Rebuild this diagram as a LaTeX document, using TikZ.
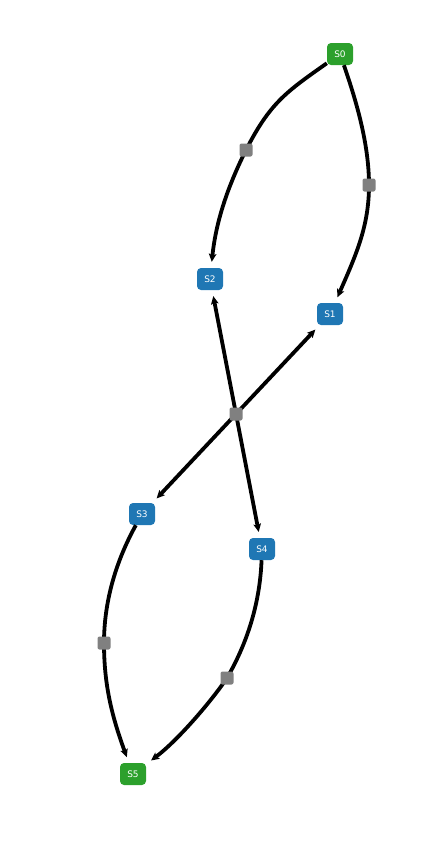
\documentclass[tikz,border=0pt]{standalone}
\usepackage{fontspec}
\setmainfont{DejaVu Sans}
\usetikzlibrary{arrows.meta}
\definecolor{mgreen}{HTML}{2CA02C}
\definecolor{mblue}{HTML}{1F77B4}
\definecolor{mgray}{HTML}{808080}
\begin{document}
\begin{tikzpicture}[x=1pt,y=-1pt,
  state/.style={rounded corners=4pt,minimum width=26pt,minimum height=22pt,inner sep=0pt,text=white,font=\fontsize{9}{10}\selectfont},
  start/.style={state,fill=mgreen},
  mid/.style={state,fill=mblue},
  trans/.style={fill=mgray,rounded corners=2pt,minimum size=13pt,inner sep=0pt},
  edge/.style={line width=3.8pt,black},
  arr/.style={edge,-{Stealth[length=8pt,width=7.5pt,inset=1.5pt]},shorten >=6pt}]
\useasboundingbox (0,0) rectangle (441,846);
% nodes
\node[start] (S0) at (340,54) {S0};
\node[mid] (S2) at (210,279) {S2};
\node[mid] (S1) at (330,314) {S1};
\node[mid] (S3) at (142,514) {S3};
\node[mid] (S4) at (262,549) {S4};
\node[start] (S5) at (133,774) {S5};
\coordinate (pa) at (246,150);
\coordinate (pb) at (369,185);
\coordinate (pc) at (236,414);
\coordinate (pd) at (104,643);
\coordinate (pe) at (227,678);
% edges
\draw[edge] (S0) .. controls (286,92) and (270,103) .. (pa);
\draw[arr] (pa) .. controls (228,186) and (216,221) .. (S2);
\draw[edge] (S0) .. controls (357,103) and (369,145) .. (pb);
\draw[arr] (pb) .. controls (369,225) and (357,253) .. (S1);
\draw[arr] (pc) -- (S2);
\draw[arr] (pc) -- (S1);
\draw[arr] (pc) -- (S3);
\draw[arr] (pc) -- (S4);
\draw[edge] (S3) .. controls (115,563) and (104,603) .. (pd);
\draw[arr] (pd) .. controls (104,683) and (111,714) .. (S5);
\draw[edge] (S4) .. controls (260,600) and (249,640) .. (pe);
\draw[arr] (pe) .. controls (210,703) and (177,741) .. (S5);
% transition boxes
\node[trans] (T0) at (pa) {};
\node[trans] (T1) at (pb) {};
\node[trans] (T2) at (pc) {};
\node[trans] (T3) at (pd) {};
\node[trans] (T4) at (pe) {};
\end{tikzpicture}
\end{document}
